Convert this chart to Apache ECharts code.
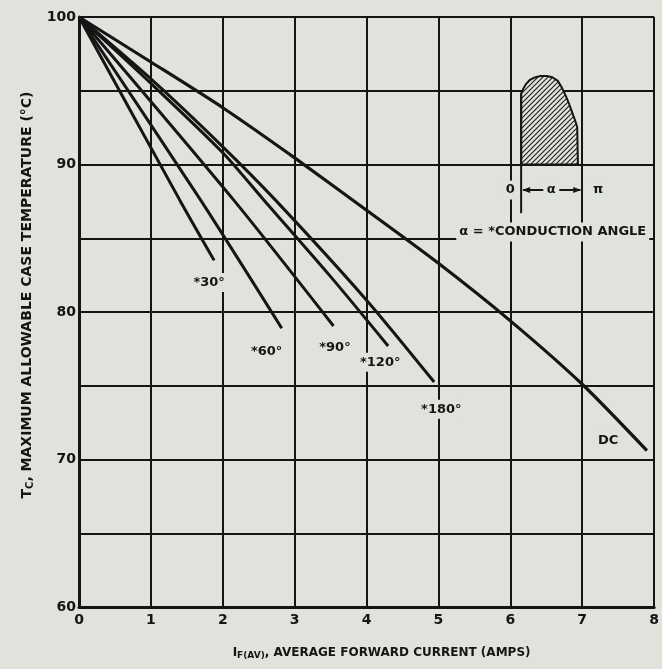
<!DOCTYPE html>
<html>
<head>
<meta charset="utf-8">
<title>Maximum allowable case temperature</title>
<script src="https://cdn.jsdelivr.net/npm/echarts@6.0.0/dist/echarts.min.js"></script>
<style>
  html, body { margin: 0; padding: 0; background: #dfe3dc; }
  #chart { width: 662px; height: 669px; }
</style>
</head>
<body>
<div id="chart"></div>
<script>
// ---- data ----
const yLabelValues = [60, 70, 80, 90, 100];

const dcCurrent = [0, 1, 2, 3, 4, 5, 6, 7, 7.9];
const dcTemp = [100, 96.95, 93.85, 90.45, 86.9, 83.3, 79.4, 75.1, 70.6];

const angleNames = ['30°', '60°', '90°', '120°', '180°'];
const angleCurrent = [
  [0, 1.40, 1.88],
  [0, 1.69, 2.82],
  [0, 2.15, 3.54],
  [0, 1, 2, 2.57, 3.5, 4.30],
  [0, 1, 2, 2.73, 4, 4.94]
];
const angleTemp = [
  [100, 87.6, 83.5],
  [100, 87.6, 78.9],
  [100, 87.6, 79.05],
  [100, 95.5, 90.8, 87.6, 82.4, 77.7],
  [100, 95.8, 91.2, 87.6, 80.8, 75.25]
];

// curve labels
const curveLabels = ['*30°', '*60°', '*90°', '*120°', '*180°', 'DC'];
const labelCurrent = [1.81, 2.61, 3.56, 4.19, 5.04, 7.36];
const labelTemp = [82.0, 77.3, 77.6, 76.6, 73.4, 71.3];

// inset: conduction waveform outline
const waveCurrent = [6.15, 6.15, 6.18, 6.22, 6.27, 6.34, 6.42, 6.51, 6.59, 6.66, 6.71, 6.77, 6.82, 6.86, 6.90, 6.93, 6.94];
const waveTemp = [90, 94.8, 95.13, 95.47, 95.73, 95.9, 96.0, 96.0, 95.9, 95.67, 95.27, 94.67, 94.07, 93.53, 93.0, 92.53, 90];
const insetTexts = ['0', 'α', 'π', 'α = *CONDUCTION ANGLE'];
const insetTextCurrent = [6.0, 6.57, 7.22, 6.59];
const insetTextTemp = [88.27, 88.27, 88.27, 85.42];

const BG = '#dfe3dc';
const INK = '#151515';
const FONT = 'DejaVu Sans';

// hatch pattern for the waveform
const hatchCanvas = document.createElement('canvas');
hatchCanvas.width = 5; hatchCanvas.height = 5;
const hctx = hatchCanvas.getContext('2d');
hctx.fillStyle = BG;
hctx.fillRect(0, 0, 5, 5);
hctx.strokeStyle = '#222';
hctx.lineWidth = 1.2;
hctx.beginPath();
hctx.moveTo(0, 5); hctx.lineTo(5, 0);
hctx.moveTo(-1, 1); hctx.lineTo(1, -1);
hctx.moveTo(4, 6); hctx.lineTo(6, 4);
hctx.stroke();
const hatch = { image: hatchCanvas, repeat: 'repeat' };

const chart = echarts.init(document.getElementById('chart'));

function renderWave(params, api) {
  const pts = waveCurrent.map((x, i) => api.coord([x, waveTemp[i]]));
  const top = api.coord([waveCurrent[0], waveTemp[1]]);
  const bottom = api.coord([waveCurrent[0], 86.7]);
  const ay = api.coord([6, 88.27])[1];
  const xl = api.coord([6.15, 0])[0];
  const xr = api.coord([7.0, 0])[0];
  const xm = api.coord([6.57, 0])[0];
  const ink = { stroke: INK, lineWidth: 2 };
  return {
    type: 'group',
    children: [
      { type: 'polygon', shape: { points: pts }, style: { fill: hatch, stroke: INK, lineWidth: 2, lineJoin: 'round' } },
      { type: 'line', shape: { x1: top[0], y1: top[1], x2: bottom[0], y2: bottom[1] }, style: ink },
      { type: 'line', shape: { x1: xl + 2, y1: ay, x2: xm - 8, y2: ay }, style: ink },
      { type: 'line', shape: { x1: xm + 8, y1: ay, x2: xr - 2, y2: ay }, style: ink },
      { type: 'polygon', shape: { points: [[xl + 1, ay], [xl + 9, ay - 3], [xl + 9, ay + 3]] }, style: { fill: INK } },
      { type: 'polygon', shape: { points: [[xr - 1, ay], [xr - 9, ay - 3], [xr - 9, ay + 3]] }, style: { fill: INK } }
    ]
  };
}

const curveSeries = angleNames.map((name, k) => ({
  name: name,
  type: 'line',
  data: angleCurrent[k].map((x, i) => [x, angleTemp[k][i]]),
  symbol: 'none',
  smooth: 0.25,
  lineStyle: { color: INK, width: 3 },
  z: 3
}));

const labelStyle = {
  show: true, position: 'inside', formatter: p => p.name,
  color: INK, fontFamily: FONT, fontWeight: 'bold', fontSize: 13,
  backgroundColor: BG, padding: [3, 2]
};

chart.setOption({
  backgroundColor: BG,
  animation: false,
  grid: { left: 79, right: 4, top: 17, bottom: 62 },
  xAxis: {
    type: 'value', min: 0, max: 8, interval: 1,
    axisLine: { lineStyle: { color: INK, width: 3 } },
    axisTick: { show: false },
    splitLine: { lineStyle: { color: INK, width: 2 } },
    axisLabel: { color: INK, fontFamily: FONT, fontWeight: 'bold', fontSize: 14, margin: 6 },
    name: '{m|I}{s|F(AV)}{m|, AVERAGE FORWARD CURRENT (AMPS)}',
    nameLocation: 'middle',
    nameGap: 38,
    nameTextStyle: {
      padding: [0, 0, 0, 30],
      rich: {
        m: { color: INK, fontFamily: FONT, fontWeight: 'bold', fontSize: 12 },
        s: { color: INK, fontFamily: FONT, fontWeight: 'bold', fontSize: 9, padding: [6, 0, 0, 0] }
      }
    }
  },
  yAxis: {
    type: 'value', min: 60, max: 100, interval: 5,
    axisLine: { show: true, lineStyle: { color: INK, width: 3 } },
    axisTick: { show: false },
    splitLine: { lineStyle: { color: INK, width: 2 } },
    axisLabel: {
      color: INK, fontFamily: FONT, fontWeight: 'bold', fontSize: 14, margin: 3,
      formatter: v => yLabelValues.includes(v) ? String(v) : ''
    },
    name: '{m|T}{s|C}{m|, MAXIMUM ALLOWABLE CASE TEMPERATURE (°C)}',
    nameLocation: 'middle',
    nameGap: 42,
    nameTextStyle: {
      padding: [0, 0, 0, 34],
      rich: {
        m: { color: INK, fontFamily: FONT, fontWeight: 'bold', fontSize: 14 },
        s: { color: INK, fontFamily: FONT, fontWeight: 'bold', fontSize: 10, padding: [7, 0, 0, 0] }
      }
    }
  },
  series: [
    {
      name: 'DC',
      type: 'line',
      data: dcCurrent.map((x, i) => [x, dcTemp[i]]),
      symbol: 'none',
      smooth: 0.25,
      lineStyle: { color: INK, width: 3.2 },
      z: 3
    },
    ...curveSeries,
    {
      name: 'waveform',
      type: 'custom',
      renderItem: renderWave,
      data: [[waveCurrent[0], waveTemp[0]]],
      z: 4
    },
    {
      name: 'curve labels',
      type: 'scatter',
      symbolSize: 0,
      itemStyle: { opacity: 1 },
      data: curveLabels.map((t, i) => ({ value: [labelCurrent[i], labelTemp[i]], name: t })),
      label: labelStyle,
      z: 5
    },
    {
      name: 'inset labels',
      type: 'scatter',
      symbolSize: 0,
      itemStyle: { opacity: 1 },
      data: insetTexts.map((t, i) => ({ value: [insetTextCurrent[i], insetTextTemp[i]], name: t })),
      label: Object.assign({}, labelStyle, { padding: [3, 3] }),
      z: 5
    }
  ]
});
</script>
</body>
</html>
